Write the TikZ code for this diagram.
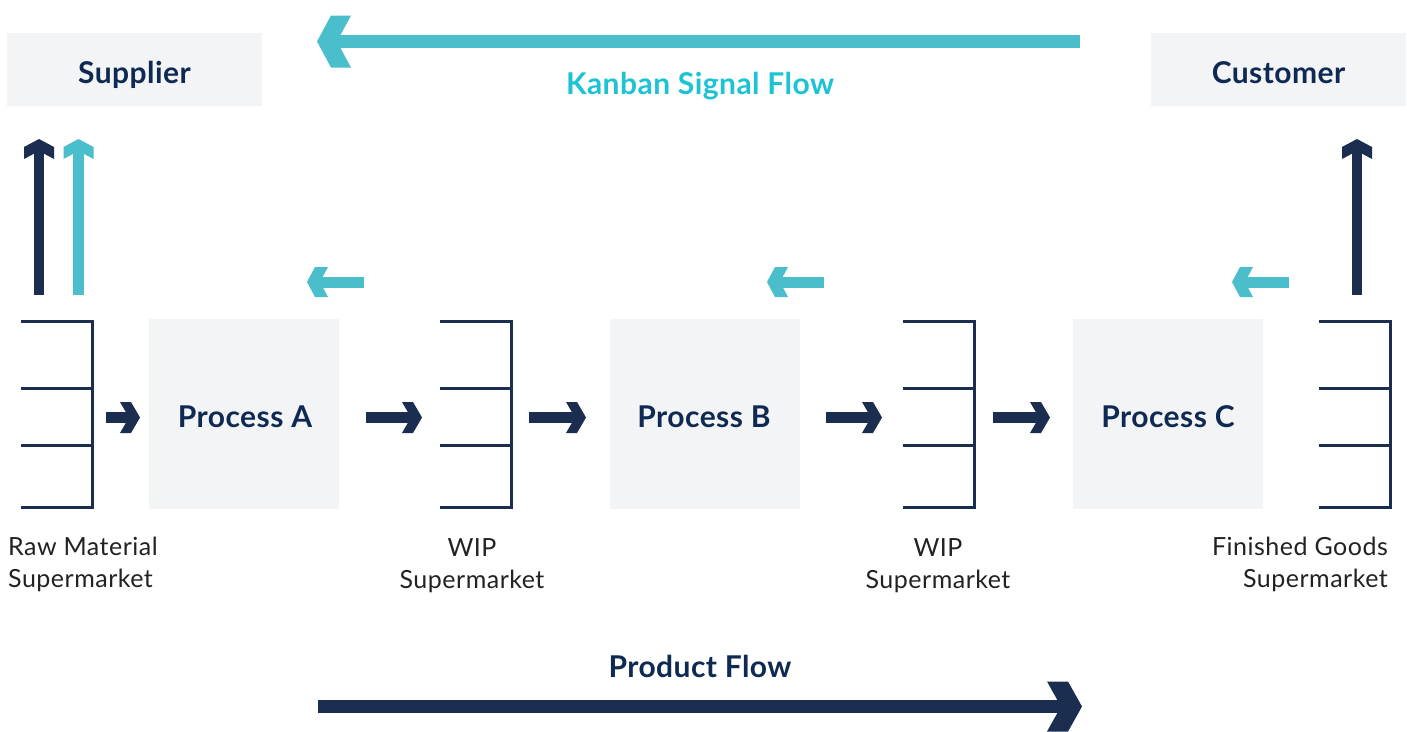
\documentclass[tikz,border=0pt]{standalone}
\usepackage{fontspec}
\setmainfont{Lato}
\usetikzlibrary{calc}
\definecolor{navy}{HTML}{1B2E4F}
\definecolor{navytext}{HTML}{0F2A52}
\definecolor{kteal}{HTML}{4BBECB}
\definecolor{cyantext}{HTML}{1BC3D5}
\definecolor{boxgray}{HTML}{F2F4F6}
\definecolor{bodytext}{HTML}{222222}
\tikzset{
  pics/chev/.style n args={3}{code={%
    \fill (0,0) -- (-#1,#2) -- (-#1-#3,#2) -- (-#3,0) -- (-#1-#3,-#2) -- (-#1,-#2) -- cycle;}},
  pics/market/.style={code={%
    \draw[navy, line width=3pt] (0,0) -- (71,0) (0,67) -- (71,67) (0,124) -- (71,124) (0,186) -- (71,186);
    \draw[navy, line width=3pt] (71,-1.5) -- (71,187.5);}},
  greybox/.style={fill=boxgray, draw=none, inner sep=0pt},
  title/.style={font=\bfseries\fontsize{30}{30}\selectfont\addfontfeatures{LetterSpace=1.5}, text=navytext, anchor=base, inner sep=0pt},
  caption/.style={font=\fontsize{25}{32}\selectfont\addfontfeatures{LetterSpace=2}, text=bodytext, inner sep=0pt, anchor=base},
  bigshaft/.style={line width=13pt, shorten >=12pt},
  smallshaft/.style={line width=11pt, shorten >=9pt},
  vshaft/.style={line width=10.5pt, shorten >=9pt},
}
\begin{document}
\begin{tikzpicture}[x=1pt,y=-1pt]
\fill[white] (0,0) rectangle (1407,731);
\useasboundingbox (0,0) rectangle (1407,731);

% Supplier / Customer
\node[greybox, minimum width=255pt, minimum height=73pt] (sup) at (134.5,69.5) {};
\node[title] (supt) at ($(sup.center)+(0,13.5)$) {Supplier};
\node[greybox, minimum width=255pt, minimum height=73pt] (cus) at (1278.5,69.5) {};
\node[title] (cust) at ($(cus.center)+(0,13.5)$) {Customer};

% Kanban signal flow
\coordinate (k1) at (1080,41.5);
\coordinate (k2) at (317,41.5);
\draw[kteal, bigshaft] (k1) -- (k2);
\pic[kteal, rotate=180] at (k2) {chev={14}{26}{20}};
\node[title, text=cyantext] (kt) at (700,94) {Kanban Signal Flow};

% Vertical arrows
\coordinate (v1a) at (39,295);   \coordinate (v1b) at (39,139);
\coordinate (v2a) at (78.5,295); \coordinate (v2b) at (78.5,139);
\coordinate (v3a) at (1357,295); \coordinate (v3b) at (1357,139);
\draw[navy, vshaft] (v1a) -- (v1b);
\pic[navy, rotate=90] at (v1b) {chev={8}{15}{12}};
\draw[kteal, vshaft] (v2a) -- (v2b);
\pic[kteal, rotate=90] at (v2b) {chev={8}{15}{12}};
\draw[navy, vshaft] (v3a) -- (v3b);
\pic[navy, rotate=90] at (v3b) {chev={8}{15}{12}};

% Small kanban arrows
\coordinate (s1a) at (364,282);  \coordinate (s1b) at (307,282);
\coordinate (s2a) at (824,282);  \coordinate (s2b) at (767,282);
\coordinate (s3a) at (1289,282); \coordinate (s3b) at (1232,282);
\foreach \a/\b in {s1a/s1b, s2a/s2b, s3a/s3b}{
  \draw[kteal, smallshaft] (\a) -- (\b);
  \pic[kteal, rotate=180] at (\b) {chev={8}{15}{13}};
}

% Supermarkets
\pic at (21,321) {market};
\pic at (440,321) {market};
\pic at (903,321) {market};
\pic at (1319,321) {market};

% Processes
\node[greybox, minimum width=190pt, minimum height=190pt] (pA) at (244,414) {};
\node[greybox, minimum width=190pt, minimum height=190pt] (pB) at (705,414) {};
\node[greybox, minimum width=190pt, minimum height=190pt] (pC) at (1168,414) {};
\node[title] (pAt) at ($(pA.center)+(1,13)$) {Process A};
\node[title] (pBt) at ($(pB.center)+(-1,13)$) {Process B};
\node[title] (pCt) at ($(pC.center)+(0,13)$) {Process C};

% Product flow small arrows
\coordinate (f1a) at (106,417.5); \coordinate (f1b) at (140,417.5);
\coordinate (f2a) at (366,417.5); \coordinate (f2b) at (422,417.5);
\coordinate (f3a) at (529,417.5); \coordinate (f3b) at (586,417.5);
\coordinate (f4a) at (826,417.5); \coordinate (f4b) at (882,417.5);
\coordinate (f5a) at (993,417.5); \coordinate (f5b) at (1050,417.5);
\foreach \a/\b in {f1a/f1b, f2a/f2b, f3a/f3b, f4a/f4b, f5a/f5b}{
  \draw[navy, smallshaft] (\a) -- (\b);
  \pic[navy] at (\b) {chev={9}{15.5}{11}};
}

% Captions (anchor at baseline of last line)
\node[caption, align=left, anchor=base west] (c1) at (8,587) {Raw Material\\Supermarket};
\node[caption, align=center] (c2) at (472,588) {WIP\\Supermarket};
\node[caption, align=center] (c3) at (938,588) {WIP\\Supermarket};
\node[caption, align=right, anchor=base east] (c4) at (1388,587) {Finished Goods\\Supermarket};

% Product flow
\node[title] (pft) at (700,677) {Product Flow};
\coordinate (p1) at (318,706.5);
\coordinate (p2) at (1082,706.5);
\draw[navy, bigshaft] (p1) -- (p2);
\pic[navy] at (p2) {chev={14}{25}{21}};
\end{tikzpicture}
\end{document}
